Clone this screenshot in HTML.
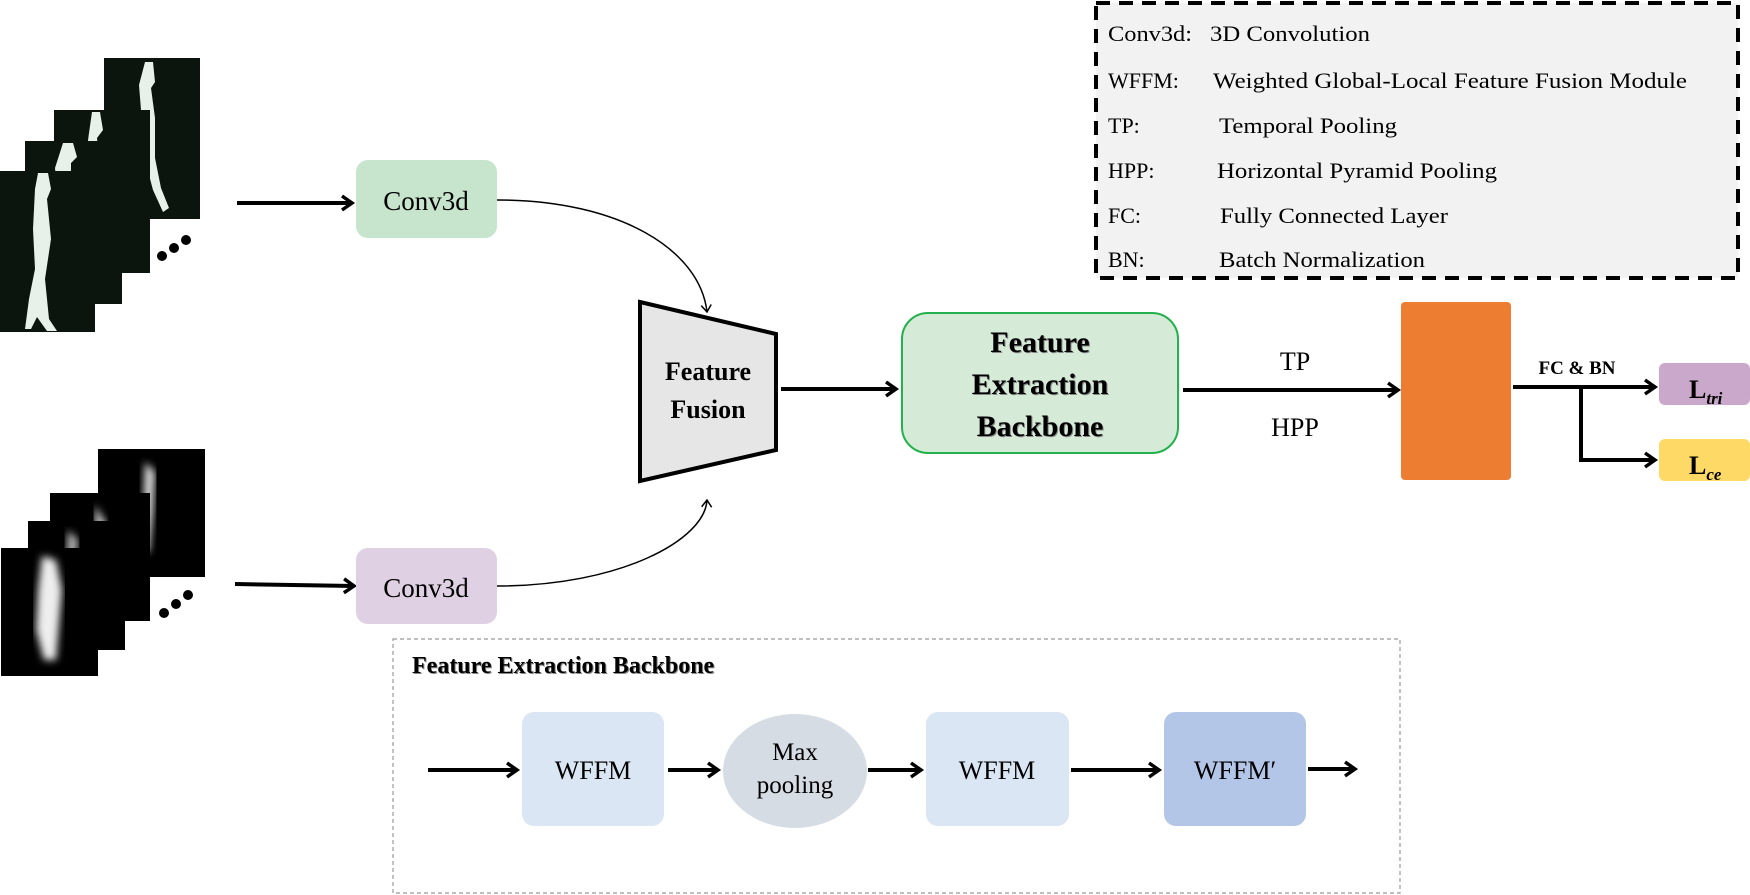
<!DOCTYPE html>
<html><head><meta charset="utf-8"><style>
html,body{margin:0;padding:0;background:#fff;}
svg{display:block;}
text{font-family:"Liberation Serif",serif;}
</style></head><body>
<svg width="1750" height="895" viewBox="0 0 1750 895" xmlns="http://www.w3.org/2000/svg">
<defs>
<marker id="ah" markerWidth="16" markerHeight="18" refX="12" refY="9" orient="auto" markerUnits="userSpaceOnUse">
<path d="M2,2 L12,9 L2,16" fill="none" stroke="#000" stroke-width="3.5"/>
</marker>
<marker id="ahs" markerWidth="12" markerHeight="12" refX="8" refY="6" orient="auto" markerUnits="userSpaceOnUse">
<path d="M1,1 L8,6 L1,11" fill="none" stroke="#000" stroke-width="1.5"/>
</marker>
<filter id="bl"><feGaussianBlur stdDeviation="4"/></filter>
</defs>

<!-- Top silhouette stack -->
<g>
<rect x="104" y="58" width="96" height="161" fill="#0b140d"/>
<path d="M145,62 l8,0 l2,20 l-4,6 l4,30 l0,40 l6,30 l8,20 l-6,4 l-10,-22 l-8,-30 l-4,20 l-4,0 l0,-40 l4,-30 l-2,-25 z" fill="#e8f0ea"/>
<rect x="54" y="110" width="96" height="163" fill="#0b140d"/>
<path d="M92,112 l8,0 l3,18 l-6,8 l4,40 l2,40 l6,30 l-6,5 l-10,-30 l-4,30 l-6,0 l2,-40 l0,-50 l4,-30 z" fill="#e8f0ea"/>
<rect x="25" y="141" width="97" height="163" fill="#0b140d"/>
<path d="M63,143 l10,0 l4,14 l-6,6 l0,30 l4,40 l-4,50 l-8,0 l2,-45 l-6,-30 l-4,-40 z" fill="#e8f0ea"/>
<rect x="0" y="171" width="95" height="161" fill="#0b140d"/>
<path d="M38,173 l10,0 l3,16 l-4,10 l4,40 l-6,40 l4,40 l8,12 l-10,0 l-10,-14 l-6,12 l-6,0 l4,-30 l6,-30 l-2,-40 l2,-40 z" fill="#e8f0ea"/>
<circle cx="162" cy="256" r="5" fill="#000"/><circle cx="174" cy="248" r="5" fill="#000"/><circle cx="186" cy="240" r="5" fill="#000"/>
</g>

<!-- Bottom heatmap stack -->
<g>
<rect x="98" y="449" width="107" height="128" fill="#000"/>
<path d="M145,462 l10,10 l-2,40 l-4,40 l-8,0 l2,-40 z" fill="#ddd" filter="url(#bl)"/>
<rect x="50" y="493" width="100" height="128" fill="#000"/>
<path d="M95,505 l12,20 l-4,40 l-8,0 z" fill="#ccc" filter="url(#bl)"/>
<rect x="28" y="521" width="97" height="129" fill="#000"/>
<path d="M68,530 l10,10 l-4,30 l-8,0 z" fill="#bbb" filter="url(#bl)"/>
<rect x="1" y="548" width="97" height="128" fill="#000"/>
<path d="M42,556 l14,4 l6,30 l-6,70 l-12,0 l-8,-30 l2,-40 z" fill="#eee" filter="url(#bl)"/>
<circle cx="164" cy="613" r="5" fill="#000"/><circle cx="176" cy="604" r="5" fill="#000"/><circle cx="188" cy="595" r="5" fill="#000"/>
</g>

<!-- input arrows -->
<line x1="237" y1="203" x2="352" y2="203" stroke="#000" stroke-width="4" marker-end="url(#ah)"/>
<line x1="235" y1="584" x2="354" y2="586" stroke="#000" stroke-width="4" marker-end="url(#ah)"/>

<!-- Conv3d boxes -->
<rect x="356" y="160" width="141" height="78" rx="12" fill="#c6e5cc"/>
<text x="426" y="210" font-size="27" text-anchor="middle">Conv3d</text>
<rect x="356" y="548" width="141" height="76" rx="12" fill="#e0d0e3"/>
<text x="426" y="597" font-size="27" text-anchor="middle">Conv3d</text>

<!-- curves -->
<path d="M497,200 C620,200 700,250 707,312" fill="none" stroke="#000" stroke-width="1.5" marker-end="url(#ahs)"/>
<path d="M497,586 C620,586 705,540 707,500" fill="none" stroke="#000" stroke-width="1.5" marker-end="url(#ahs)"/>

<!-- Feature fusion trapezoid -->
<polygon points="640,302 776,334 776,450 640,481" fill="#e6e6e6" stroke="#000" stroke-width="4"/>
<text x="708" y="380" font-size="26" font-weight="bold" text-anchor="middle">Feature</text>
<text x="708" y="418" font-size="26" font-weight="bold" text-anchor="middle">Fusion</text>

<line x1="781" y1="389" x2="896" y2="389" stroke="#000" stroke-width="4" marker-end="url(#ah)"/>

<!-- Backbone box -->
<rect x="902" y="313" width="276" height="140" rx="26" fill="#d5ead7" stroke="#22b14c" stroke-width="2"/>
<g font-size="30" font-weight="bold" text-anchor="middle">
<text x="1041" y="353" fill="#888">Feature</text><text x="1040" y="352">Feature</text>
<text x="1041" y="395" fill="#888">Extraction</text><text x="1040" y="394">Extraction</text>
<text x="1041" y="437" fill="#888">Backbone</text><text x="1040" y="436">Backbone</text>
</g>

<!-- TP/HPP arrow -->
<line x1="1183" y1="390" x2="1398" y2="390" stroke="#000" stroke-width="4" marker-end="url(#ah)"/>
<text x="1295" y="370" font-size="26" text-anchor="middle">TP</text>
<text x="1295" y="436" font-size="26" text-anchor="middle">HPP</text>

<!-- Orange bar -->
<rect x="1401" y="302" width="110" height="178" rx="4" fill="#ed7d31"/>

<!-- FC & BN -->
<text x="1577" y="374" font-size="19" font-weight="bold" text-anchor="middle">FC &amp; BN</text>
<line x1="1513" y1="387" x2="1655" y2="387" stroke="#000" stroke-width="4" marker-end="url(#ah)"/>
<polyline points="1581,387 1581,460 1655,460" fill="none" stroke="#000" stroke-width="4" marker-end="url(#ah)"/>
<rect x="1659" y="363" width="91" height="42" rx="6" fill="#c9a8cb"/>
<text x="1689" y="398" font-size="26" font-weight="bold">L<tspan font-size="17" font-style="italic" dy="6">tri</tspan></text>
<rect x="1659" y="439" width="91" height="42" rx="6" fill="#ffd966"/>
<text x="1689" y="474" font-size="26" font-weight="bold">L<tspan font-size="17" font-style="italic" dy="6">ce</tspan></text>

<!-- Legend -->
<rect x="1096" y="3" width="642" height="275" fill="#f2f2f2" stroke="#000" stroke-width="4" stroke-dasharray="14,9"/>
<g font-size="22">
<text x="1108" y="41" textLength="84" lengthAdjust="spacingAndGlyphs">Conv3d:</text><text x="1210" y="41" textLength="160" lengthAdjust="spacingAndGlyphs">3D Convolution</text>
<text x="1108" y="88">WFFM:</text><text x="1213" y="88" textLength="474" lengthAdjust="spacingAndGlyphs">Weighted Global-Local  Feature Fusion Module</text>
<text x="1108" y="133">TP:</text><text x="1219" y="133" textLength="178" lengthAdjust="spacingAndGlyphs">Temporal Pooling</text>
<text x="1108" y="178">HPP:</text><text x="1217" y="178" textLength="280" lengthAdjust="spacingAndGlyphs">Horizontal Pyramid Pooling</text>
<text x="1108" y="223">FC:</text><text x="1220" y="223" textLength="228" lengthAdjust="spacingAndGlyphs">Fully Connected Layer</text>
<text x="1108" y="267">BN:</text><text x="1219" y="267" textLength="206" lengthAdjust="spacingAndGlyphs">Batch Normalization</text>
</g>

<!-- Bottom backbone detail -->
<rect x="393" y="639" width="1007" height="254" fill="none" stroke="#999" stroke-width="1.2" stroke-dasharray="4,3"/>
<text x="413" y="674" font-size="24" font-weight="bold" fill="#888">Feature Extraction Backbone</text>
<text x="412" y="673" font-size="24" font-weight="bold">Feature Extraction Backbone</text>

<rect x="522" y="712" width="142" height="114" rx="12" fill="#dae6f3"/>
<text x="593" y="779" font-size="26" text-anchor="middle">WFFM</text>
<ellipse cx="795" cy="771" rx="72" ry="57" fill="#d6dce4"/>
<text x="795" y="760" font-size="25" text-anchor="middle">Max</text>
<text x="795" y="793" font-size="25" text-anchor="middle">pooling</text>
<rect x="926" y="712" width="143" height="114" rx="12" fill="#dae6f3"/>
<text x="997" y="779" font-size="26" text-anchor="middle">WFFM</text>
<rect x="1164" y="712" width="142" height="114" rx="12" fill="#b4c6e7"/>
<text x="1235" y="779" font-size="26" text-anchor="middle">WFFM′</text>

<g stroke="#000" stroke-width="4">
<line x1="428" y1="770" x2="517" y2="770" marker-end="url(#ah)"/>
<line x1="668" y1="770" x2="718" y2="770" marker-end="url(#ah)"/>
<line x1="868" y1="770" x2="921" y2="770" marker-end="url(#ah)"/>
<line x1="1071" y1="770" x2="1159" y2="770" marker-end="url(#ah)"/>
<line x1="1308" y1="769" x2="1355" y2="769" marker-end="url(#ah)"/>
</g>
</svg>
</body></html>
